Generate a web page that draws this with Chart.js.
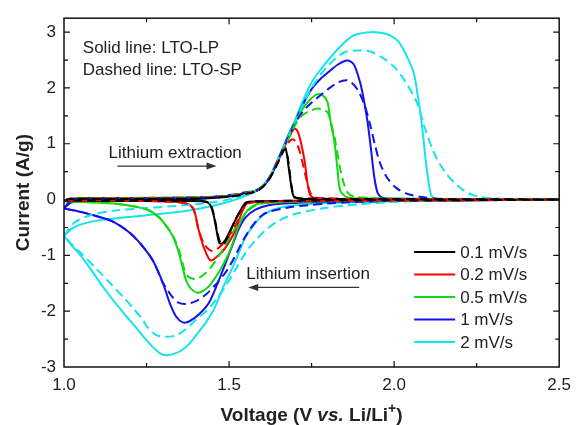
<!DOCTYPE html>
<html lang="en">
<head>
<meta charset="UTF-8" />
<title>CV curves LTO-LP / LTO-SP</title>
<script src="https://cdn.jsdelivr.net/npm/chart.js"></script>
<style>
  html, body { margin: 0; padding: 0; background: #fff; }
  #wrap { width: 579px; height: 425px; }
</style>
</head>
<body>
<div id="wrap"><canvas id="cv" width="579" height="425"></canvas></div>
<script>
  // scan rates and colours
  const rates = ['0.1 mV/s', '0.2 mV/s', '0.5 mV/s', '1 mV/s', '2 mV/s'];
  const colors = ['#000000', '#ff0000', '#11d811', '#1212ee', '#14e4ee'];
  const xTicks = [1.0, 1.5, 2.0, 2.5];
  const yTicks = [-3, -2, -1, 0, 1, 2, 3];

  // [voltage V, current A/g], anodic scan 1.0 -> 2.5 then cathodic 2.5 -> 1.0
  // solid lines: LTO-LP
  const lp01 = [[1.0,-0.02],[1.02,0.01],[1.2,0.01],[1.4,0.02],[1.5,0.06],[1.55,0.11],[1.59,0.18],[1.62,0.36],[1.645,0.65],[1.668,0.94],[1.675,0.82],[1.68,0.6],[1.687,0.3],[1.693,0.1],[1.70,0.03],[1.75,0.01],[2.0,0.01],[2.5,0.0],
    [2.2,-0.01],[1.9,-0.01],[1.7,-0.02],[1.6,-0.03],[1.56,-0.04],[1.549,-0.06],[1.534,-0.2],[1.519,-0.37],[1.504,-0.55],[1.489,-0.72],[1.478,-0.79],[1.47,-0.77],[1.462,-0.55],[1.452,-0.25],[1.44,-0.07],[1.42,-0.03],[1.3,-0.02],[1.0,-0.02]];
  const lp02 = [[1.0,-0.02],[1.02,0.015],[1.2,0.02],[1.4,0.03],[1.5,0.06],[1.55,0.12],[1.59,0.18],[1.62,0.37],[1.65,0.73],[1.68,1.1],[1.693,1.24],[1.70,1.27],[1.708,1.22],[1.717,1.04],[1.729,0.69],[1.738,0.28],[1.747,0.07],[1.77,0.02],[2.0,0.01],[2.5,0.0],
    [2.2,-0.01],[1.9,-0.02],[1.7,-0.03],[1.6,-0.04],[1.565,-0.05],[1.552,-0.08],[1.537,-0.25],[1.519,-0.55],[1.498,-0.78],[1.48,-0.93],[1.462,-1.03],[1.447,-1.09],[1.438,-1.05],[1.423,-0.85],[1.408,-0.55],[1.393,-0.18],[1.375,-0.08],[1.33,-0.04],[1.2,-0.02],[1.0,-0.02]];
  const lp05 = [[1.0,-0.03],[1.02,0.02],[1.2,0.03],[1.4,0.04],[1.5,0.07],[1.55,0.12],[1.59,0.18],[1.62,0.37],[1.65,0.73],[1.68,1.13],[1.70,1.38],[1.72,1.6],[1.745,1.79],[1.768,1.89],[1.785,1.86],[1.798,1.75],[1.807,1.42],[1.819,1.04],[1.828,0.57],[1.837,0.16],[1.858,0.04],[1.9,0.02],[2.2,0.01],[2.5,0.0],
    [2.2,-0.01],[1.9,-0.02],[1.7,-0.04],[1.6,-0.06],[1.57,-0.12],[1.555,-0.2],[1.537,-0.37],[1.52,-0.62],[1.507,-0.85],[1.488,-1.1],[1.468,-1.31],[1.45,-1.47],[1.438,-1.56],[1.42,-1.64],[1.405,-1.67],[1.385,-1.6],[1.37,-1.45],[1.358,-1.18],[1.345,-0.9],[1.33,-0.66],[1.31,-0.48],[1.29,-0.33],[1.26,-0.2],[1.228,-0.14],[1.15,-0.07],[1.05,-0.04],[1.0,-0.03]];
  const lp1 = [[1.0,-0.16],[1.02,-0.06],[1.05,-0.03],[1.2,-0.02],[1.35,-0.01],[1.45,0.03],[1.5,0.06],[1.55,0.12],[1.59,0.18],[1.62,0.37],[1.65,0.74],[1.68,1.15],[1.70,1.4],[1.72,1.66],[1.75,1.98],[1.78,2.18],[1.80,2.28],[1.83,2.42],[1.858,2.49],[1.877,2.43],[1.892,2.2],[1.903,1.95],[1.918,1.45],[1.93,0.9],[1.94,0.4],[1.95,0.12],[1.962,0.04],[1.98,0.02],[2.2,0.01],[2.5,0.0],
    [2.2,-0.01],[2.0,-0.02],[1.8,-0.04],[1.7,-0.06],[1.62,-0.1],[1.58,-0.18],[1.55,-0.32],[1.53,-0.52],[1.51,-0.82],[1.49,-1.13],[1.47,-1.43],[1.44,-1.84],[1.41,-2.05],[1.38,-2.18],[1.36,-2.2],[1.34,-2.1],[1.32,-1.85],[1.30,-1.5],[1.27,-1.1],[1.24,-0.85],[1.2,-0.6],[1.15,-0.4],[1.1,-0.3],[1.05,-0.22],[1.0,-0.16]];
  const lp2 = [[1.0,-0.65],[1.03,-0.5],[1.08,-0.4],[1.15,-0.34],[1.25,-0.28],[1.35,-0.22],[1.42,-0.15],[1.48,-0.07],[1.52,0.0],[1.555,0.08],[1.59,0.18],[1.62,0.38],[1.65,0.75],[1.68,1.17],[1.70,1.42],[1.72,1.72],[1.75,2.1],[1.78,2.35],[1.80,2.5],[1.85,2.82],[1.88,2.95],[1.93,3.0],[1.975,2.97],[2.0,2.9],[2.017,2.8],[2.04,2.55],[2.059,2.28],[2.072,1.85],[2.083,1.4],[2.092,0.9],[2.1,0.5],[2.107,0.22],[2.114,0.06],[2.13,0.01],[2.3,0.0],[2.5,0.0],
    [2.2,-0.01],[2.0,-0.03],[1.8,-0.06],[1.7,-0.1],[1.65,-0.15],[1.61,-0.25],[1.58,-0.42],[1.55,-0.67],[1.53,-0.95],[1.507,-1.26],[1.48,-1.6],[1.459,-1.91],[1.43,-2.2],[1.408,-2.37],[1.38,-2.58],[1.357,-2.7],[1.33,-2.77],[1.31,-2.79],[1.29,-2.75],[1.267,-2.63],[1.24,-2.45],[1.219,-2.3],[1.19,-2.1],[1.159,-1.88],[1.12,-1.58],[1.087,-1.3],[1.05,-1.0],[1.02,-0.8],[1.0,-0.65]];

  // dashed lines: LTO-SP
  const sp01 = [[1.0,-0.02],[1.02,0.01],[1.2,0.01],[1.4,0.02],[1.5,0.05],[1.55,0.1],[1.59,0.17],[1.62,0.35],[1.645,0.62],[1.665,0.88],[1.672,0.9],[1.678,0.75],[1.684,0.48],[1.69,0.22],[1.697,0.06],[1.72,0.02],[2.0,0.01],[2.5,0.0],
    [2.2,-0.01],[1.9,-0.01],[1.7,-0.02],[1.6,-0.03],[1.555,-0.05],[1.54,-0.15],[1.52,-0.35],[1.505,-0.55],[1.492,-0.72],[1.482,-0.8],[1.474,-0.78],[1.465,-0.6],[1.455,-0.3],[1.443,-0.08],[1.42,-0.03],[1.3,-0.02],[1.0,-0.02]];
  const sp02 = [[1.0,-0.02],[1.02,0.015],[1.2,0.02],[1.4,0.03],[1.5,0.06],[1.55,0.11],[1.59,0.17],[1.62,0.35],[1.65,0.7],[1.675,0.98],[1.69,1.08],[1.70,1.05],[1.712,0.9],[1.725,0.6],[1.737,0.3],[1.75,0.08],[1.77,0.03],[2.0,0.01],[2.5,0.0],
    [2.2,-0.01],[1.9,-0.02],[1.7,-0.03],[1.6,-0.04],[1.555,-0.08],[1.54,-0.2],[1.52,-0.45],[1.50,-0.65],[1.48,-0.8],[1.465,-0.88],[1.452,-0.92],[1.44,-0.9],[1.425,-0.8],[1.408,-0.55],[1.393,-0.18],[1.375,-0.08],[1.33,-0.04],[1.2,-0.02],[1.0,-0.02]];
  const sp05 = [[1.0,-0.03],[1.02,0.02],[1.2,0.03],[1.4,0.04],[1.5,0.07],[1.55,0.12],[1.59,0.18],[1.62,0.36],[1.65,0.7],[1.68,1.08],[1.70,1.33],[1.72,1.5],[1.75,1.6],[1.77,1.63],[1.79,1.6],[1.80,1.55],[1.81,1.35],[1.822,1.04],[1.835,0.6],[1.848,0.28],[1.86,0.12],[1.88,0.05],[1.93,0.03],[2.0,0.01],[2.5,0.0],
    [2.2,-0.01],[1.9,-0.02],[1.7,-0.04],[1.6,-0.07],[1.57,-0.14],[1.55,-0.25],[1.52,-0.5],[1.50,-0.7],[1.47,-1.0],[1.44,-1.25],[1.42,-1.36],[1.40,-1.42],[1.385,-1.41],[1.372,-1.35],[1.362,-1.2],[1.352,-0.98],[1.34,-0.78],[1.325,-0.6],[1.31,-0.47],[1.29,-0.33],[1.26,-0.2],[1.228,-0.14],[1.15,-0.07],[1.05,-0.04],[1.0,-0.03]];
  const sp1 = [[1.0,-0.16],[1.02,-0.02],[1.05,0.02],[1.3,0.03],[1.45,0.05],[1.5,0.08],[1.55,0.13],[1.59,0.19],[1.62,0.37],[1.65,0.73],[1.68,1.12],[1.70,1.36],[1.72,1.55],[1.747,1.72],[1.775,1.86],[1.80,1.98],[1.83,2.1],[1.855,2.14],[1.87,2.1],[1.888,1.98],[1.909,1.72],[1.927,1.35],[1.942,0.98],[1.957,0.66],[1.978,0.4],[2.008,0.2],[2.047,0.09],[2.09,0.04],[2.15,0.01],[2.5,0.0],
    [2.2,-0.01],[2.0,-0.02],[1.86,-0.05],[1.8,-0.07],[1.74,-0.1],[1.68,-0.14],[1.62,-0.22],[1.6,-0.28],[1.58,-0.4],[1.56,-0.56],[1.54,-0.76],[1.515,-1.05],[1.49,-1.3],[1.46,-1.52],[1.43,-1.7],[1.40,-1.82],[1.37,-1.87],[1.345,-1.84],[1.325,-1.72],[1.31,-1.58],[1.30,-1.5],[1.27,-1.1],[1.24,-0.85],[1.2,-0.6],[1.15,-0.4],[1.1,-0.3],[1.05,-0.22],[1.0,-0.16]];
  const sp2 = [[1.0,-0.65],[1.03,-0.42],[1.08,-0.28],[1.15,-0.2],[1.25,-0.15],[1.35,-0.11],[1.45,-0.05],[1.52,0.03],[1.555,0.1],[1.59,0.19],[1.62,0.38],[1.65,0.74],[1.68,1.14],[1.70,1.4],[1.75,2.0],[1.80,2.4],[1.85,2.64],[1.9,2.67],[1.93,2.65],[1.97,2.52],[2.0,2.38],[2.03,2.15],[2.068,1.75],[2.095,1.25],[2.115,0.92],[2.135,0.67],[2.16,0.45],[2.19,0.26],[2.22,0.13],[2.25,0.06],[2.3,0.02],[2.5,0.0],
    [2.2,-0.01],[2.05,-0.03],[1.95,-0.06],[1.86,-0.1],[1.78,-0.16],[1.7,-0.26],[1.65,-0.38],[1.61,-0.55],[1.58,-0.73],[1.55,-0.95],[1.52,-1.25],[1.49,-1.55],[1.46,-1.8],[1.43,-2.0],[1.40,-2.15],[1.37,-2.32],[1.34,-2.43],[1.31,-2.46],[1.28,-2.43],[1.252,-2.28],[1.237,-2.14],[1.21,-1.95],[1.18,-1.75],[1.14,-1.5],[1.1,-1.25],[1.05,-0.95],[1.02,-0.78],[1.0,-0.65]];

  const solidSets = [lp01, lp02, lp05, lp1, lp2];
  const dashedSets = [sp01, sp02, sp05, sp1, sp2];

  const FONT = "'Liberation Sans', Arial, sans-serif";
  const toXY = arr => arr.map(p => ({ x: p[0], y: p[1] }));

  const datasets = [];
  dashedSets.forEach((d, i) => datasets.push({
    label: rates[i] + ' SP', data: toXY(d), borderColor: colors[i],
    borderWidth: 2, borderDash: [9, 5], showLine: true, pointRadius: 0, tension: 0.3, fill: false
  }));
  solidSets.forEach((d, i) => datasets.push({
    label: rates[i] + ' LP', data: toXY(d), borderColor: colors[i],
    borderWidth: 2, showLine: true, pointRadius: 0, tension: 0.3, fill: false
  }));

  function arrow(ctx, x1, x2, y) {
    const dir = x2 > x1 ? 1 : -1;
    ctx.strokeStyle = '#333';
    ctx.fillStyle = '#333';
    ctx.lineWidth = 1.3;
    ctx.beginPath();
    ctx.moveTo(x1, y);
    ctx.lineTo(x2 - dir * 6, y);
    ctx.stroke();
    ctx.beginPath();
    ctx.moveTo(x2, y);
    ctx.lineTo(x2 - dir * 10, y - 3.5);
    ctx.lineTo(x2 - dir * 10, y + 3.5);
    ctx.closePath();
    ctx.fill();
  }

  const framePlugin = {
    id: 'frame',
    afterDraw(chart) {
      const { ctx, chartArea: a, scales: { x, y } } = chart;
      ctx.save();
      // frame
      ctx.strokeStyle = '#111';
      ctx.lineWidth = 1.5;
      ctx.strokeRect(a.left, a.top, a.right - a.left, a.bottom - a.top);
      // inward ticks on all four sides
      ctx.lineWidth = 1.2;
      ctx.beginPath();
      for (let v = 1.25; v < 2.5; v += 0.25) {
        const px = x.getPixelForValue(v);
        const len = Math.abs((v * 2) % 1) < 0.01 ? 6 : 4;
        ctx.moveTo(px, a.bottom); ctx.lineTo(px, a.bottom - len);
        ctx.moveTo(px, a.top); ctx.lineTo(px, a.top + len);
      }
      for (let v = -2.5; v <= 3.01; v += 0.5) {
        const py = y.getPixelForValue(v);
        const len = Math.abs(v % 1) < 0.01 ? 6 : 4;
        ctx.moveTo(a.left, py); ctx.lineTo(a.left + len, py);
        ctx.moveTo(a.right, py); ctx.lineTo(a.right - len, py);
      }
      ctx.stroke();

      // annotations
      ctx.fillStyle = '#222';
      ctx.font = '17px ' + FONT;
      ctx.textAlign = 'left';
      ctx.textBaseline = 'middle';
      ctx.fillText('Solid line: LTO-LP', x.getPixelForValue(1.057), y.getPixelForValue(2.71));
      ctx.fillText('Dashed line: LTO-SP', x.getPixelForValue(1.057), y.getPixelForValue(2.32));
      ctx.fillText('Lithium extraction', x.getPixelForValue(1.135), y.getPixelForValue(0.83));
      arrow(ctx, x.getPixelForValue(1.162), x.getPixelForValue(1.462), y.getPixelForValue(0.6));
      ctx.fillStyle = '#222';
      ctx.fillText('Lithium insertion', x.getPixelForValue(1.552), y.getPixelForValue(-1.345));
      arrow(ctx, x.getPixelForValue(1.894), x.getPixelForValue(1.558), y.getPixelForValue(-1.575));

      // legend (solid line samples)
      const lx = a.right - 145;
      rates.forEach((r, i) => {
        const ly = a.bottom - 115 + i * 22.5;
        ctx.strokeStyle = colors[i];
        ctx.lineWidth = 2;
        ctx.beginPath();
        ctx.moveTo(lx, ly); ctx.lineTo(lx + 41, ly);
        ctx.stroke();
        ctx.fillStyle = '#222';
        ctx.fillText(r, lx + 46, ly + 1);
      });

      // y title
      ctx.save();
      ctx.translate(24, (a.top + a.bottom) / 2);
      ctx.rotate(-Math.PI / 2);
      ctx.textAlign = 'center';
      ctx.font = 'bold 19px ' + FONT;
      ctx.fillStyle = '#222';
      ctx.fillText('Current (A/g)', 0, 0);
      ctx.restore();

      // x title with italic "vs." and superscript "+"
      const parts = [
        { t: 'Voltage (V ', f: 'bold 19px ' + FONT, dy: 0 },
        { t: 'vs.', f: 'italic bold 19px ' + FONT, dy: 0 },
        { t: ' Li/Li', f: 'bold 19px ' + FONT, dy: 0 },
        { t: '+', f: 'bold 14px ' + FONT, dy: -8 },
        { t: ')', f: 'bold 19px ' + FONT, dy: 0 }
      ];
      let total = 0;
      parts.forEach(p => { ctx.font = p.f; p.w = ctx.measureText(p.t).width; total += p.w; });
      let cx = (a.left + a.right) / 2 - total / 2;
      ctx.textAlign = 'left';
      ctx.textBaseline = 'alphabetic';
      ctx.fillStyle = '#222';
      parts.forEach(p => { ctx.font = p.f; ctx.fillText(p.t, cx, 421 + p.dy); cx += p.w; });
      ctx.restore();
    }
  };

  new Chart(document.getElementById('cv'), {
    type: 'scatter',
    data: { datasets },
    options: {
      responsive: false,
      animation: false,
      devicePixelRatio: 1,
      layout: { padding: { top: 14, right: 15, left: 0, bottom: 0 } },
      plugins: { legend: { display: false }, tooltip: { enabled: false } },
      scales: {
        x: {
          type: 'linear', min: xTicks[0], max: xTicks[xTicks.length - 1],
          grid: { display: false, drawTicks: false }, border: { display: false },
          ticks: { stepSize: 0.5, padding: 8, color: '#222', maxRotation: 0, includeBounds: false,
                   font: { family: FONT, size: 17 }, callback: v => Number(v).toFixed(1) },
          afterFit: s => { s.height = 58; }
        },
        y: {
          type: 'linear', min: yTicks[0], max: 3.25,
          grid: { display: false, drawTicks: false }, border: { display: false },
          ticks: { stepSize: 1, padding: 8, color: '#222', includeBounds: false,
                   font: { family: FONT, size: 17 }, callback: v => String(Math.round(v)) },
          afterFit: s => { s.width = 64; }
        }
      }
    },
    plugins: [framePlugin]
  });
</script>
</body>
</html>
